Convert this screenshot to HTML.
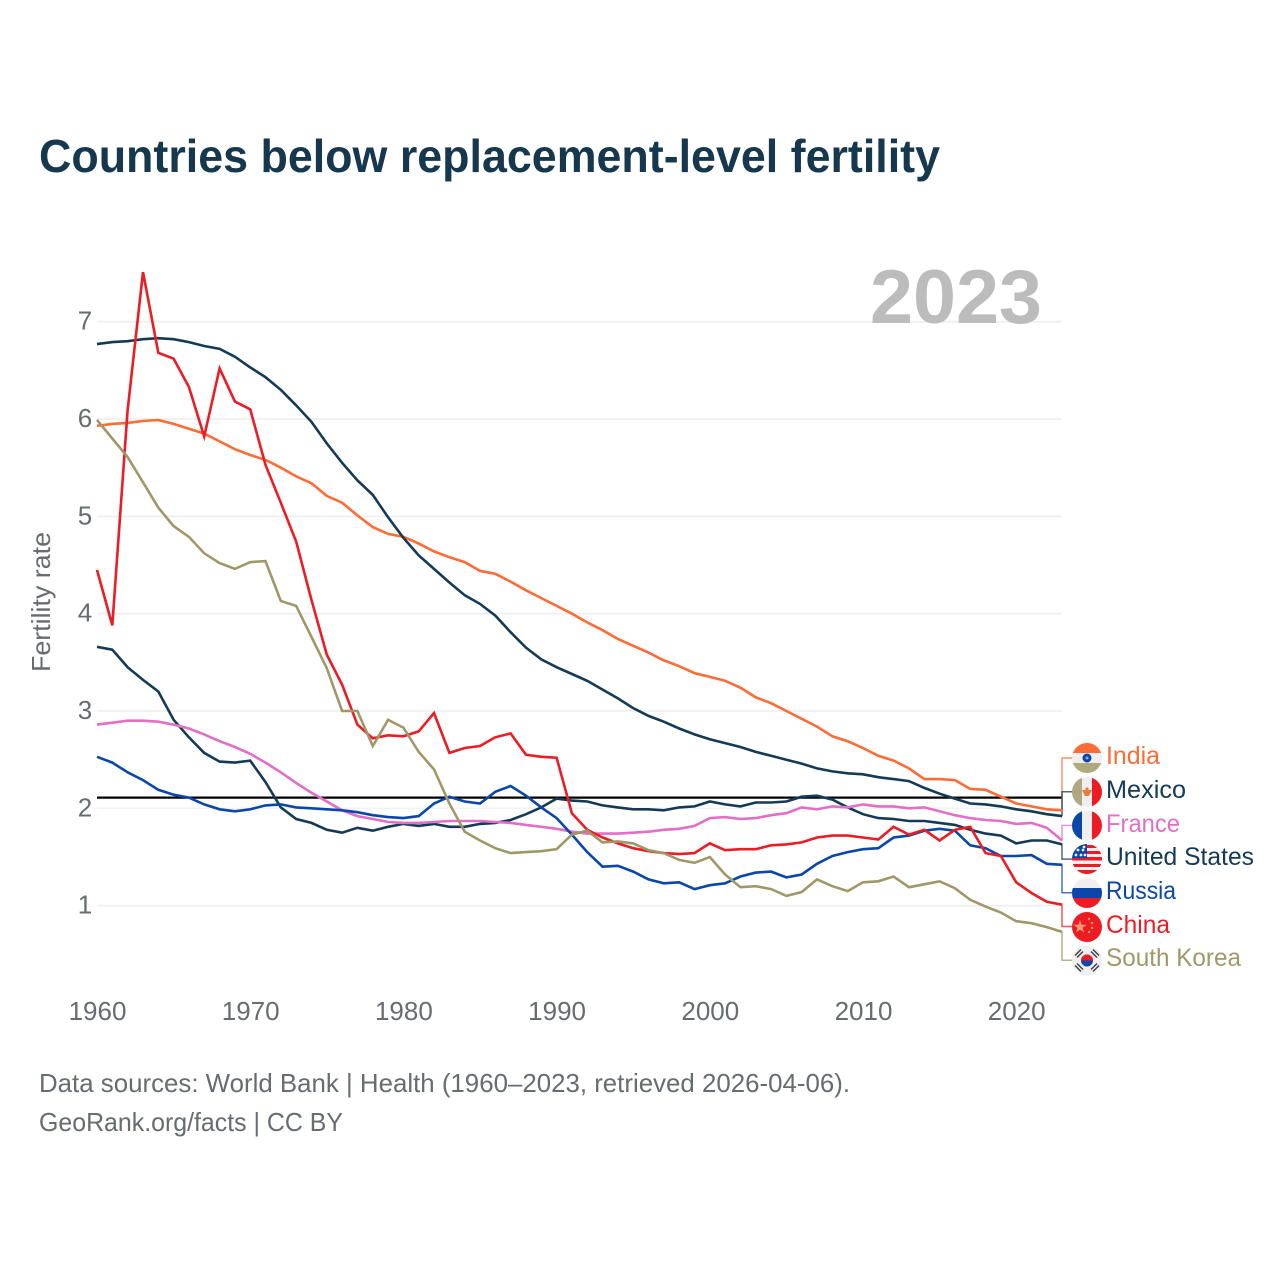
<!DOCTYPE html>
<html lang="en">
<head>
<meta charset="utf-8">
<title>Countries below replacement-level fertility</title>
<style>
html,body{margin:0;padding:0;background:#fff;width:1280px;height:1280px;overflow:hidden}
svg{display:block}
text{font-family:"Liberation Sans",sans-serif}
</style>
</head>
<body>
<svg id="chart" width="1280" height="1280" viewBox="0 0 1280 1280" xmlns="http://www.w3.org/2000/svg">
  <defs>
    <clipPath id="flag-clip"><circle cx="0" cy="0" r="15"/></clipPath>
  </defs>
  <rect width="1280" height="1280" fill="#ffffff"/>
  <text x="39" y="172" font-size="46" font-weight="700" fill="#15384f" textLength="901" lengthAdjust="spacingAndGlyphs">Countries below replacement-level fertility</text>
  <g id="grid"></g>
  <text x="870" y="323" font-size="76" font-weight="700" fill="#bcbcbc" textLength="172" lengthAdjust="spacingAndGlyphs">2023</text>
  <g id="y-ticks"></g>
  <g id="x-ticks"></g>
  <text transform="translate(50,602) rotate(-90)" text-anchor="middle" font-size="26" fill="#666c70" textLength="140" lengthAdjust="spacingAndGlyphs">Fertility rate</text>
  <g id="reference"></g>
  <g id="connectors"></g>
  <g id="series"></g>

  <g transform="translate(1087,758)" clip-path="url(#flag-clip)">
    <rect x="-15" y="-15" width="30" height="30" fill="#f0eeee"/>
    <rect x="-15" y="-15" width="30" height="10" fill="#ff6b35"/>
    <rect x="-15" y="5" width="30" height="10" fill="#b0a97f"/>
    <circle r="4.5" fill="#0a47a9"/><circle r="1.5" fill="#8fa8d8"/>
  </g>
  <g transform="translate(1087,792)" clip-path="url(#flag-clip)">
    <rect x="-15" y="-15" width="30" height="30" fill="#f0eeee"/>
    <rect x="-15" y="-15" width="10" height="30" fill="#b0a97f"/>
    <rect x="5" y="-15" width="10" height="30" fill="#ed1c24"/>
    <polygon points="-5,-2 5,-2 2,4 -2,4" fill="#ea7b3a"/>
    <circle cy="-3" r="1.6" fill="#ea7b3a"/>
  </g>
  <g transform="translate(1087,825.5)" clip-path="url(#flag-clip)">
    <rect x="-15" y="-15" width="30" height="30" fill="#f0eeee"/>
    <rect x="-15" y="-15" width="10" height="30" fill="#0a47a9"/>
    <rect x="5" y="-15" width="10" height="30" fill="#ed1c24"/>
  </g>
  <g transform="translate(1087,859)" clip-path="url(#flag-clip)">
    <rect x="-15" y="-15" width="30" height="30" fill="#f0eeee"/>
    <rect x="-15" y="-14" width="30" height="3" fill="#ed1c24"/>
    <rect x="-15" y="-8" width="30" height="3" fill="#ed1c24"/>
    <rect x="-15" y="-2" width="30" height="3.5" fill="#ed1c24"/>
    <rect x="-15" y="5" width="30" height="3" fill="#ed1c24"/>
    <rect x="-15" y="11" width="30" height="4" fill="#ed1c24"/>
    <rect x="-15" y="-15" width="15" height="14" fill="#0a47a9"/>
    <circle cx="-9" cy="-9" r="1.4" fill="#f0eeee"/><circle cx="-4" cy="-9" r="1.4" fill="#f0eeee"/>
    <circle cx="-11" cy="-4" r="1.4" fill="#f0eeee"/><circle cx="-6" cy="-4" r="1.4" fill="#f0eeee"/><circle cx="-2" cy="-4" r="1.4" fill="#f0eeee"/>
    <circle cx="-3" cy="-12" r="1.4" fill="#f0eeee"/>
  </g>
  <g transform="translate(1087,893)" clip-path="url(#flag-clip)">
    <rect x="-15" y="-15" width="30" height="30" fill="#f0eeee"/>
    <rect x="-15" y="-5" width="30" height="10" fill="#0a47a9"/>
    <rect x="-15" y="5" width="30" height="10" fill="#ed1c24"/>
  </g>
  <g transform="translate(1087,927)" clip-path="url(#flag-clip)">
    <rect x="-15" y="-15" width="30" height="30" fill="#ed1c24"/>
    <polygon points="-7,-7 -5.4,-2.2 -0.4,-2.2 -4.4,0.8 -2.9,5.5 -7,2.6 -11.1,5.5 -9.6,0.8 -13.6,-2.2 -8.6,-2.2" fill="#f89a72"/>
    <circle cx="2" cy="-8" r="1.2" fill="#f6a04d"/><circle cx="5" cy="-4" r="1.2" fill="#f6a04d"/>
    <circle cx="5" cy="1" r="1.2" fill="#f6a04d"/><circle cx="2" cy="5" r="1.2" fill="#f6a04d"/>
  </g>
  <g transform="translate(1087,960.5)" clip-path="url(#flag-clip)">
    <rect x="-15" y="-15" width="30" height="30" fill="#f0eeee"/>
    <circle r="6" fill="#0a47a9"/>
    <path d="M-6,0 A6,6 0 0 1 6,0 Z" fill="#ed1c24"/>
    <g stroke="#3a4248" stroke-width="1.4">
      <line x1="-12" y1="-5" x2="-6" y2="-11"/><line x1="-10" y1="-3" x2="-4" y2="-9"/>
      <line x1="12" y1="-5" x2="6" y2="-11"/><line x1="10" y1="-3" x2="4" y2="-9"/>
      <line x1="-12" y1="5" x2="-6" y2="11"/><line x1="-10" y1="3" x2="-4" y2="9"/>
      <line x1="12" y1="5" x2="6" y2="11"/><line x1="10" y1="3" x2="4" y2="9"/>
    </g>
  </g>

  <text x="1106" y="764" font-size="25" fill="#ff6b35" textLength="54" lengthAdjust="spacingAndGlyphs">India</text>
  <text x="1106" y="798" font-size="25" fill="#143a56" textLength="80" lengthAdjust="spacingAndGlyphs">Mexico</text>
  <text x="1106" y="832" font-size="25" fill="#e26ec8" textLength="74" lengthAdjust="spacingAndGlyphs">France</text>
  <text x="1106" y="865" font-size="25" fill="#143a56" textLength="148" lengthAdjust="spacingAndGlyphs">United States</text>
  <text x="1106" y="899" font-size="25" fill="#0a47a9" textLength="70" lengthAdjust="spacingAndGlyphs">Russia</text>
  <text x="1106" y="933" font-size="25" fill="#ed1c24" textLength="64" lengthAdjust="spacingAndGlyphs">China</text>
  <text x="1106" y="966" font-size="25" fill="#a09868" textLength="135" lengthAdjust="spacingAndGlyphs">South Korea</text>

  <text x="39" y="1092" font-size="26" fill="#666c70" textLength="811" lengthAdjust="spacingAndGlyphs">Data sources: World Bank | Health (1960–2023, retrieved 2026-04-06).</text>
  <text x="39" y="1131" font-size="26" fill="#666c70" textLength="304" lengthAdjust="spacingAndGlyphs">GeoRank.org/facts | CC BY</text>
</svg>
<script>
const startYear = 1960;
const yTickValues = [1, 2, 3, 4, 5, 6, 7];
const xTickValues = [1960, 1970, 1980, 1990, 2000, 2010, 2020];
const replacementLevel = 2.11;
const india = [5.93,5.95,5.96,5.98,5.99,5.95,5.90,5.85,5.77,5.69,5.63,5.58,5.50,5.41,5.34,5.21,5.14,5.01,4.89,4.82,4.79,4.72,4.64,4.58,4.53,4.44,4.41,4.33,4.24,4.16,4.08,4.00,3.91,3.83,3.74,3.67,3.60,3.52,3.46,3.39,3.35,3.31,3.24,3.14,3.08,3.00,2.92,2.84,2.74,2.69,2.62,2.54,2.49,2.41,2.30,2.30,2.29,2.20,2.19,2.12,2.05,2.02,1.99,1.98];
const mexico = [6.77,6.79,6.80,6.82,6.83,6.82,6.79,6.75,6.72,6.64,6.53,6.43,6.30,6.14,5.97,5.75,5.55,5.37,5.22,4.99,4.78,4.60,4.46,4.32,4.19,4.10,3.98,3.81,3.65,3.53,3.45,3.38,3.31,3.22,3.13,3.03,2.95,2.89,2.82,2.76,2.71,2.67,2.63,2.58,2.54,2.50,2.46,2.41,2.38,2.36,2.35,2.32,2.30,2.28,2.21,2.15,2.10,2.05,2.04,2.02,1.99,1.97,1.94,1.92];
const unitedStates = [3.66,3.63,3.45,3.32,3.20,2.91,2.73,2.57,2.48,2.47,2.49,2.27,2.01,1.89,1.85,1.78,1.75,1.80,1.77,1.81,1.84,1.82,1.84,1.81,1.81,1.84,1.85,1.88,1.94,2.01,2.10,2.08,2.07,2.03,2.01,1.99,1.99,1.98,2.01,2.02,2.07,2.04,2.02,2.06,2.06,2.07,2.12,2.13,2.09,2.01,1.94,1.90,1.89,1.87,1.87,1.85,1.83,1.78,1.74,1.72,1.64,1.67,1.67,1.63];
const france = [2.86,2.88,2.90,2.90,2.89,2.86,2.82,2.76,2.69,2.63,2.56,2.47,2.37,2.26,2.16,2.07,1.98,1.92,1.89,1.86,1.85,1.85,1.86,1.87,1.87,1.87,1.86,1.85,1.83,1.81,1.79,1.76,1.74,1.74,1.74,1.75,1.76,1.78,1.79,1.82,1.90,1.91,1.89,1.90,1.93,1.95,2.01,1.99,2.02,2.01,2.04,2.02,2.02,2.00,2.01,1.97,1.93,1.90,1.88,1.87,1.84,1.85,1.80,1.67];
const russia = [2.53,2.47,2.37,2.29,2.19,2.14,2.11,2.04,1.99,1.97,1.99,2.03,2.04,2.01,2.00,1.99,1.98,1.96,1.93,1.91,1.90,1.92,2.05,2.12,2.07,2.05,2.17,2.23,2.13,2.01,1.90,1.73,1.55,1.40,1.41,1.35,1.27,1.23,1.24,1.17,1.21,1.23,1.30,1.34,1.35,1.29,1.32,1.43,1.51,1.55,1.58,1.59,1.70,1.72,1.77,1.79,1.77,1.62,1.59,1.51,1.51,1.52,1.43,1.42];
const china = [4.45,3.88,6.09,7.51,6.68,6.62,6.33,5.82,6.52,6.18,6.10,5.53,5.14,4.74,4.14,3.58,3.27,2.86,2.72,2.75,2.74,2.79,2.98,2.57,2.62,2.64,2.73,2.77,2.55,2.53,2.52,1.95,1.78,1.70,1.64,1.59,1.56,1.54,1.53,1.54,1.64,1.57,1.58,1.58,1.62,1.63,1.65,1.70,1.72,1.72,1.70,1.68,1.81,1.73,1.78,1.67,1.78,1.81,1.54,1.51,1.24,1.13,1.04,1.01];
const southKorea = [5.99,5.80,5.61,5.35,5.09,4.90,4.79,4.62,4.52,4.46,4.53,4.54,4.13,4.08,3.76,3.44,3.00,3.00,2.64,2.91,2.83,2.58,2.40,2.05,1.76,1.67,1.59,1.54,1.55,1.56,1.58,1.73,1.77,1.65,1.66,1.64,1.57,1.54,1.47,1.44,1.50,1.32,1.19,1.20,1.17,1.10,1.14,1.27,1.20,1.15,1.24,1.25,1.30,1.19,1.22,1.25,1.18,1.06,0.99,0.93,0.84,0.82,0.78,0.73];

const NS = 'http://www.w3.org/2000/svg';
const xScale = function (year) { return 97 + (year - 1960) * 15.32; };
const yScale = function (value) { return 1003 - value * 97.33; };

function make(parent, tag, props, text) {
  const el = document.createElementNS(NS, tag);
  Object.keys(props).forEach(function (k) { el.setAttribute(k, props[k]); });
  if (text !== undefined) el.textContent = text;
  parent.appendChild(el);
  return el;
}

const gridGroup = document.getElementById('grid');
const yTickGroup = document.getElementById('y-ticks');
yTickValues.forEach(function (v) {
  const gridline = make(gridGroup, 'line', { x1: 97, x2: 1062, y1: yScale(v), y2: yScale(v), stroke: v === 2 ? '#f3f3f3' : '#eeeeee', 'stroke-width': 1.6 });
  
  
  const label = make(yTickGroup, 'text', { x: 85, y: yScale(v) + 8, 'text-anchor': 'middle', 'font-size': 26, fill: '#666c70' }, String(v));
  
  
});

const xTickGroup = document.getElementById('x-ticks');
xTickValues.forEach(function (year) {
  const label = make(xTickGroup, 'text', { x: xScale(year) + 0.5, y: 1020, 'text-anchor': 'middle', 'font-size': 26, fill: '#666c70' }, String(year));
  
  
});

const refLine = make(document.getElementById('reference'), 'line', { x1: 97, x2: 1062, y1: yScale(replacementLevel), y2: yScale(replacementLevel), stroke: '#000000', 'stroke-width': 2.2 });



const seriesList = [
  { key: 'india', values: india, color: '#ff6b35', slot: 0 },
  { key: 'mexico', values: mexico, color: '#143a56', slot: 1 },
  { key: 'united-states', values: unitedStates, color: '#143a56', slot: 3 },
  { key: 'france', values: france, color: '#e26ec8', slot: 2 },
  { key: 'russia', values: russia, color: '#0a47a9', slot: 4 },
  { key: 'china', values: china, color: '#ed1c24', slot: 5 },
  { key: 'south-korea', values: southKorea, color: '#a09868', slot: 6 }
];

const seriesGroup = document.getElementById('series');
const connectorGroup = document.getElementById('connectors');
seriesList.forEach(function (s) {
  const pts = s.values.map(function (v, i) { return xScale(startYear + i).toFixed(1) + ',' + yScale(v).toFixed(1); }).join(' ');
  const line = make(seriesGroup, 'polyline', { points: pts, fill: 'none', stroke: s.color, 'stroke-width': 2.6, 'stroke-linejoin': 'miter' });
  
  
  const endY = yScale(s.values[s.values.length - 1]);
  const labelY = 758 + s.slot * 33.7;
  const connector = make(connectorGroup, 'polyline', { points: '1062,' + endY.toFixed(1) + ' 1062,' + labelY.toFixed(1) + ' 1073,' + labelY.toFixed(1), fill: 'none', stroke: s.color, 'stroke-width': 1.5, 'stroke-opacity': 0.75 });
  
  
});
</script>
</body>
</html>
